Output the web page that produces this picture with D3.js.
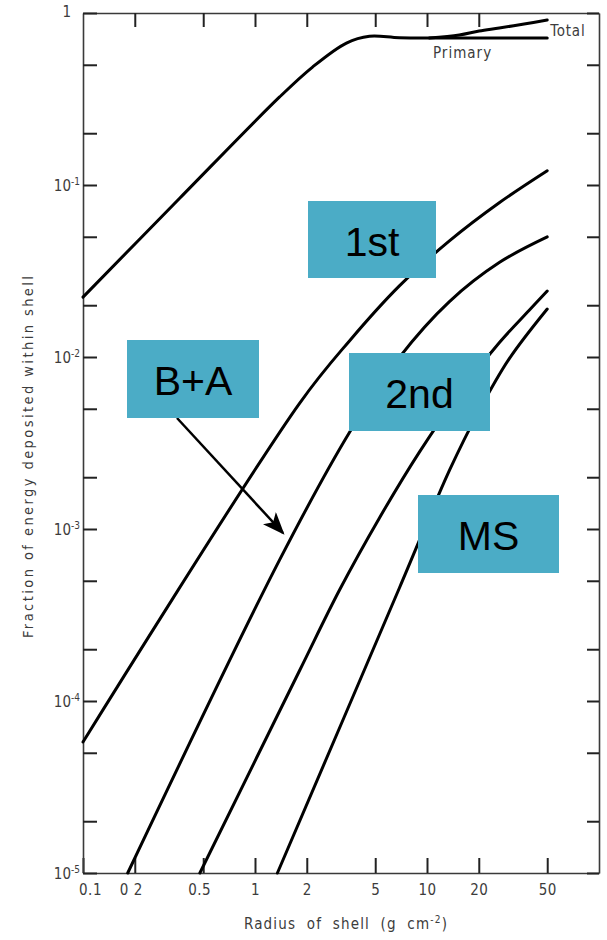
<!DOCTYPE html>
<html lang="en">
<head>
  <meta charset="UTF-8">
  <title>Fraction of energy deposited within shell</title>
  <script src="https://d3js.org/d3.v7.min.js"></script>
  <style>
    body { margin: 0; background: #fff; }
    .lbl { font-family: 'Liberation Sans Narrow', 'DejaVu Sans Condensed', 'Liberation Sans', sans-serif; fill: #3c3c3c; }
    .box-text { font-family: 'Liberation Sans', Arial, sans-serif; font-size: 41px; fill: #000; }
  </style>
</head>
<body>
<div id="chart"></div>
<script>
  // radius of shell (g cm^-2) and fraction of energy
  const primary_r = [0.1, 0.366, 1.39, 2.16, 3.40, 4.63, 6.91, 12.95, 26.3, 50];
  const primary_v = [0.0223, 0.084, 0.325, 0.485, 0.669, 0.732, 0.718, 0.716, 0.716, 0.716];

  const total_r = [10.3, 15.4, 20.1, 26.3, 36.7, 50];
  const total_v = [0.716, 0.745, 0.786, 0.818, 0.863, 0.911];

  const first_r = [0.1, 1.82, 3.54, 6.91, 13.5, 26.3, 50];
  const first_v = [5.78e-5, 5.4e-3, 0.0124, 0.0259, 0.0473, 0.0788, 0.121];

  const second_r = [0.182, 1.39, 3.54, 6.91, 13.5, 26.3, 50];
  const second_v = [1e-5, 6.61e-4, 3.64e-3, 9.95e-3, 0.0210, 0.0354, 0.0499];

  const third_r = [0.478, 1.82, 3.10, 5.29, 9.03, 15.4, 26.3, 39.3, 50];
  const third_v = [1e-5, 1.51e-4, 4.42e-4, 1.16e-3, 2.80e-3, 6.11e-3, 0.0121, 0.0187, 0.0242];

  const ms_r = [1.35, 6.91, 13.5, 20.1, 29.9, 50];
  const ms_v = [1e-5, 4.54e-4, 2.19e-3, 4.88e-3, 9.68e-3, 0.0190];

  const x_ticks = [0.1, 0.2, 0.5, 1, 2, 5, 10, 20, 50];
  const x_tick_labels = ["0.1", "0 2", "0.5", "1", "2", "5", "10", "20", "50"];
  const x_top_ticks = [0.2, 0.5, 1, 2, 5, 10, 20];
  const y_ticks = [1, 0.5, 0.2, 0.1, 0.05, 0.02, 0.01, 0.005, 0.002, 0.001,
    5e-4, 2e-4, 1e-4, 5e-5, 2e-5, 1e-5];
  const y_major = [1, 1e-1, 1e-2, 1e-3, 1e-4, 1e-5];
  const y_major_exp = ["", "-1", "-2", "-3", "-4", "-5"];

  const boxes = [
    { text: "1st", x: 308, y: 201, w: 128, h: 77 },
    { text: "B+A", x: 127, y: 340, w: 132, h: 78 },
    { text: "2nd", x: 349, y: 353, w: 141, h: 78 },
    { text: "MS", x: 418, y: 495, w: 141, h: 78 }
  ];

  const width = 607;
  const height = 940;
  const plot_left = 83, plot_right = 599, plot_top = 13, plot_bottom = 873;
  const axis_color = "#3a3a3a";
  const box_color = "#4BACC6";

  const svg = d3.select("#chart")
    .append("svg")
    .attr("width", width)
    .attr("height", height);

  const x = d3.scaleLog().domain([0.1, 100]).range([plot_left, plot_right]);
  const y = d3.scaleLog().domain([1e-5, 1]).range([plot_bottom, plot_top]);

  // frame + ticks
  const axes = svg.append("g");
  axes.append("g")
    .attr("transform", "translate(0," + plot_bottom + ")")
    .call(d3.axisBottom(x).tickValues(x_ticks).tickSizeInner(-15).tickSizeOuter(0)
      .tickPadding(11).tickFormat((d, i) => x_tick_labels[i]));
  axes.append("g")
    .attr("transform", "translate(0," + plot_top + ")")
    .call(d3.axisTop(x).tickValues(x_top_ticks).tickSizeInner(-14).tickSizeOuter(0).tickFormat(""));
  axes.append("g")
    .attr("transform", "translate(" + plot_left + ",0)")
    .call(d3.axisLeft(y).tickValues(y_ticks).tickSizeInner(-14).tickSizeOuter(0).tickFormat(""));
  axes.append("g")
    .attr("transform", "translate(" + plot_right + ",0)")
    .call(d3.axisRight(y).tickValues(y_ticks).tickSizeInner(-12).tickSizeOuter(0).tickFormat(""));

  axes.selectAll(".domain").attr("stroke", axis_color).attr("stroke-width", 1.6);
  axes.selectAll(".tick line").attr("stroke", "#222").attr("stroke-width", 2);
  axes.selectAll(".tick text")
    .attr("fill", "#3c3c3c")
    .attr("dx", (d, i) => i === 0 ? 7 : (d < 1 ? -4 : 0))
    .style("font-size", "15px")
    .style("letter-spacing", "0.5px")
    .style("font-family", "'Liberation Sans Narrow', 'DejaVu Sans Condensed', 'Liberation Sans', sans-serif");

  // y labels with exponents
  const ylab = svg.append("g").selectAll("text")
    .data(y_major)
    .enter()
    .append("text")
    .attr("class", "lbl")
    .attr("text-anchor", "end")
    .attr("x", (d, i) => i === 0 ? plot_left - 12 : plot_left - 3)
    .attr("y", (d, i) => y(d) + (i === 0 ? 4 : 6))
    .style("font-size", "15px");
  ylab.append("tspan").text((d, i) => i === 0 ? "1" : "10");
  ylab.append("tspan")
    .attr("dy", -6)
    .style("font-size", "10px")
    .text((d, i) => y_major_exp[i]);

  // axis titles
  const y_mid = (plot_top + plot_bottom) / 2 + 14;
  svg.append("text")
    .attr("class", "lbl")
    .attr("text-anchor", "middle")
    .attr("transform", "translate(33," + y_mid + ") rotate(-90)")
    .attr("textLength", 362)
    .attr("lengthAdjust", "spacing")
    .style("font-size", "14.5px")
    .text("Fraction of energy deposited within shell");

  const xt = svg.append("text")
    .attr("class", "lbl")
    .attr("text-anchor", "middle")
    .attr("x", 346)
    .attr("y", 929)
    .style("font-size", "15px")
    .style("letter-spacing", "1.2px")
    .style("word-spacing", "5px");
  xt.append("tspan").text("Radius of shell (g cm");
  xt.append("tspan").attr("dy", -6).style("font-size", "10px").text("-2");
  xt.append("tspan").attr("dy", 6).text(")");

  // curves
  const line = d3.line()
    .x(d => x(d[0]))
    .y(d => y(d[1]))
    .curve(d3.curveCatmullRom.alpha(0.5));

  const series = [
    [primary_r, primary_v],
    [total_r, total_v],
    [first_r, first_v],
    [second_r, second_v],
    [third_r, third_v],
    [ms_r, ms_v]
  ];

  svg.append("g").selectAll("path")
    .data(series)
    .enter()
    .append("path")
    .attr("fill", "none")
    .attr("stroke", "#000")
    .attr("stroke-width", 3)
    .attr("stroke-linecap", "round")
    .attr("d", s => line(s[0].map((r, i) => [r, s[1][i]])));

  // curve labels at the top right
  svg.append("text")
    .attr("class", "lbl")
    .attr("x", x(total_r[total_r.length - 1]) + 3)
    .attr("y", y(total_v[total_v.length - 1]) + 16)
    .style("font-size", "15px")
    .style("letter-spacing", "0.8px")
    .text("Total");
  svg.append("text")
    .attr("class", "lbl")
    .attr("x", 433)
    .attr("y", 58)
    .style("font-size", "15px")
    .style("letter-spacing", "1px")
    .text("Primary");

  // arrow for B+A
  svg.append("defs").append("marker")
    .attr("id", "head")
    .attr("viewBox", "0 0 10 8")
    .attr("refX", 9)
    .attr("refY", 4)
    .attr("markerWidth", 9)
    .attr("markerHeight", 7.2)
    .attr("markerUnits", "strokeWidth")
    .attr("orient", "auto")
    .append("path")
    .attr("d", "M0,0 L10,4 L0,8 L2.5,4 z")
    .attr("fill", "#000");

  svg.append("line")
    .attr("x1", 177)
    .attr("y1", 418)
    .attr("x2", 283)
    .attr("y2", 533)
    .attr("stroke", "#000")
    .attr("stroke-width", 2.5)
    .attr("marker-end", "url(#head)");

  // annotation boxes
  const bx = svg.append("g").selectAll("g")
    .data(boxes)
    .enter()
    .append("g");
  bx.append("rect")
    .attr("x", d => d.x)
    .attr("y", d => d.y)
    .attr("width", d => d.w)
    .attr("height", d => d.h)
    .attr("fill", box_color);
  bx.append("text")
    .attr("class", "box-text")
    .attr("text-anchor", "middle")
    .attr("x", d => d.x + d.w / 2)
    .attr("y", d => d.y + d.h / 2 + 16)
    .text(d => d.text);
</script>
</body>
</html>
